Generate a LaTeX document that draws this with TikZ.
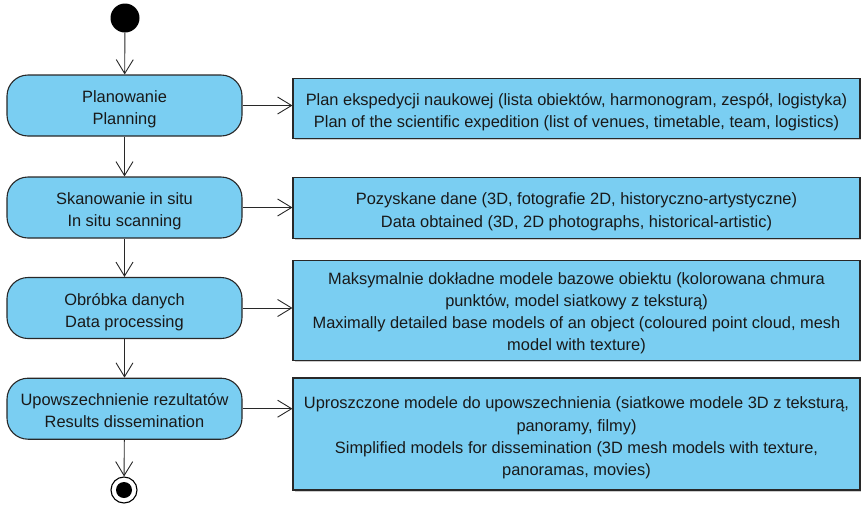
\documentclass[tikz,border=0pt]{standalone}
\usepackage{fontspec}
\setmainfont{Liberation Sans}
\usetikzlibrary{arrows.meta,shadows}
\definecolor{actfill}{RGB}{122,206,242}
\definecolor{edge}{RGB}{40,40,40}
% struts that fix the height of the first line and the depth of the last one
\newcommand\firstln[1][20.5pt]{\rule{0pt}{#1}}
\newcommand\lastln{\rule[-4pt]{0pt}{4pt}}
\tikzset{
  textblock/.style={align=center, inner sep=0pt, text=black!90},
  activity/.style={textblock, draw=edge, line width=1.1pt, fill=actfill, rounded corners=21pt,
    minimum width=235pt, minimum height=61pt, font=\fontsize{16.4}{22}\selectfont},
  artefact/.style={textblock, draw=edge, line width=1.1pt, fill=actfill, minimum width=567pt,
    font=\fontsize{16.4}{22.3}\selectfont,
    drop shadow={shadow xshift=1.5pt, shadow yshift=-1.5pt, fill=black, opacity=0.2}},
  flow/.style={draw=edge, line width=0.9pt,
    -{Straight Barb[length=14pt, width=17pt, line width=0.9pt]}}
}
\begin{document}
\begin{tikzpicture}[x=1pt, y=-1pt]
  \useasboundingbox (0,0) rectangle (861,509);

  % initial and final states
  \node[circle, fill=black, minimum size=29pt, inner sep=0pt] (start) at (125,18) {};
  \node[circle, draw=black, line width=1.1pt, fill=white, minimum size=26pt, inner sep=0pt] (stop) at (124,490) {};
  \node[circle, fill=black, minimum size=16pt, inner sep=0pt] (stopdot) at (stop.center) {};

  % activities
  \node[activity] (plan) at (124.5,105.5) {\firstln Planowanie\\Planning\lastln};
  \node[activity] (scan) at (124.5,207.5) {\firstln Skanowanie in situ\\In situ scanning\lastln};
  \node[activity] (proc) at (124.5,308) {\firstln Obróbka danych\\Data processing\lastln};
  \node[activity] (diss) at (124.5,408.7) {\firstln Upowszechnienie rezultatów\\Results dissemination\lastln};

  % products of each activity
  \node[artefact, minimum height=60pt] (planout) at (576.5,108.3)
    {\firstln Plan ekspedycji naukowej (lista obiektów, harmonogram, zespół, logistyka)\\
     Plan of the scientific expedition (list of venues, timetable, team, logistics)\lastln};
  \node[artefact, minimum height=61pt] (scanout) at (576.5,207.8)
    {\firstln Pozyskane dane (3D, fotografie 2D, historyczno-artystyczne)\\
     Data obtained (3D, 2D photographs, historical-artistic)\lastln};
  \node[artefact, minimum height=100pt] (procout) at (576.5,310.5)
    {\firstln[18pt]Maksymalnie dokładne modele bazowe obiektu (kolorowana chmura\\
     punktów, model siatkowy z teksturą)\\
     Maximally detailed base models of an object (coloured point cloud, mesh\\
     model with texture)\lastln};
  \node[artefact, minimum height=112pt] (dissout) at (576.5,434)
    {\firstln Uproszczone modele do upowszechnienia (siatkowe modele 3D z teksturą,\\
     panoramy, filmy)\\
     Simplified models for dissemination (3D mesh models with texture,\\
     panoramas, movies)\lastln};

  % control flow
  \draw[flow] (start) -- (plan);
  \draw[flow] (plan) -- (scan);
  \draw[flow] (scan) -- (proc);
  \draw[flow] (proc) -- (diss);
  \draw[flow] (diss) -- (stop);

  % outputs
  \draw[flow] (plan.east) -- (plan.east -| planout.west);
  \draw[flow] (scan.east) -- (scan.east -| scanout.west);
  \draw[flow] (proc.east) -- (proc.east -| procout.west);
  \draw[flow] (diss.east) -- (diss.east -| dissout.west);
\end{tikzpicture}
\end{document}
